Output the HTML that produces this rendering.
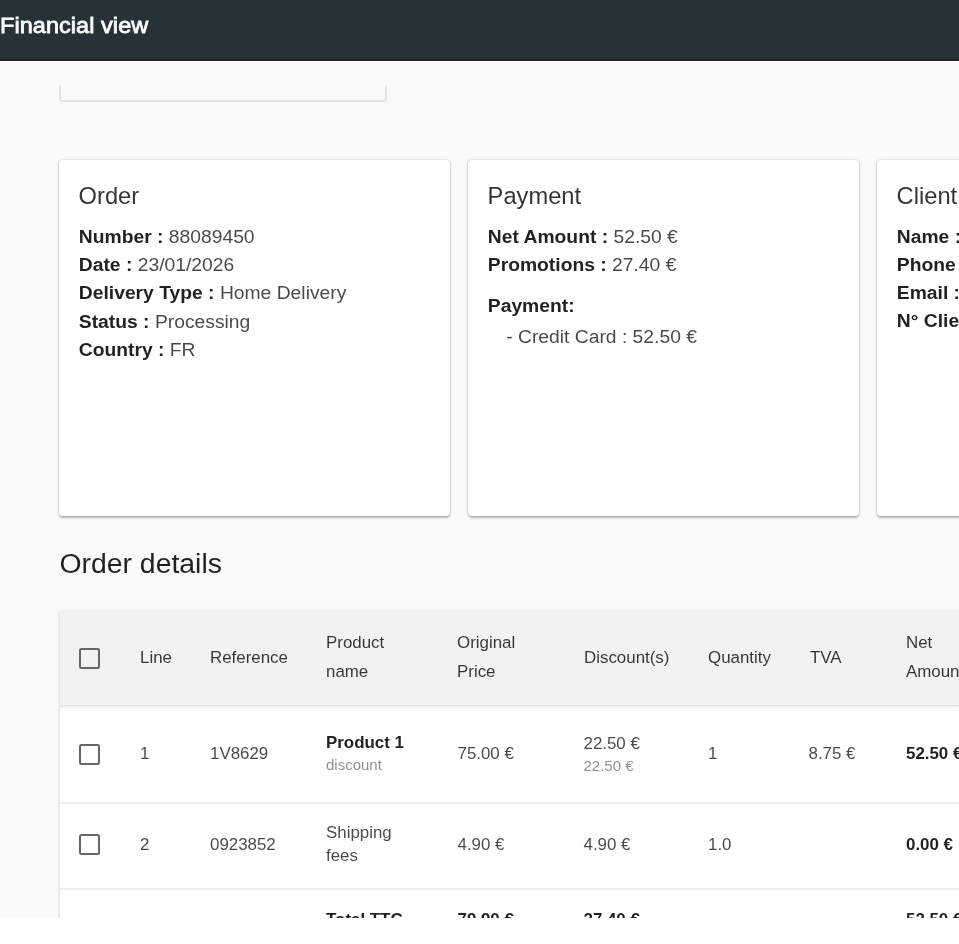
<!DOCTYPE html>
<html><head><meta charset="utf-8">
<style>
*{box-sizing:border-box;margin:0;padding:0}
html,body{width:959px;height:944px;overflow:hidden;background:#fff;font-family:"Liberation Sans",sans-serif}
#page{position:absolute;left:0;top:0;width:959px;height:918px;background:#fafafa;overflow:hidden;filter:blur(0.4px)}
#hdr{position:absolute;left:0;top:0;width:959px;height:60.5px;background:#263238;filter:blur(0.3px)}
#hdr .ttl{position:absolute;left:0;top:10.5px;transform:scaleY(.93);transform-origin:0 22.1px;font-size:23.5px;line-height:28px;color:#fafafa;white-space:nowrap;-webkit-text-stroke:0.85px #fafafa;letter-spacing:0.05px}
#hdr .ln{position:absolute;left:0;top:58.5px;width:959px;height:2px;background:#20272c}
#hdr .wl{position:absolute;left:0;top:60.5px;width:959px;height:1.5px;background:#fff}
.box{position:absolute;left:59px;top:84.7px;width:328px;height:17.3px;border:2px solid #e3e3e3;border-top:none;border-radius:0 0 3.5px 3.5px}
.card{position:absolute;top:159.5px;width:390.8px;height:356.2px;background:#fff;border-radius:4px;
 box-shadow:-1px 0 1.5px rgba(0,0,0,.1),1px 0 1.5px rgba(0,0,0,.1),0 -1px 3px rgba(0,0,0,.04),0 2.4px 2px -1px rgba(0,0,0,.14),0 1.2px 1.5px 0 rgba(0,0,0,.08),0 1.2px 3.5px 0 rgba(0,0,0,.08);padding:20px}
.card h2{font-weight:400;font-size:23.7px;line-height:28px;color:rgba(0,0,0,.87);margin-top:24px;white-space:nowrap}
.t{position:absolute;white-space:nowrap;font-size:16.9px;line-height:20px;color:rgba(0,0,0,.87)}
.t b{color:rgba(0,0,0,.87)}
.v{color:rgba(0,0,0,.72)}
.h2{font-size:23.7px;line-height:28px;color:rgba(0,0,0,.8)}
.b19{font-size:19.3px;line-height:28.3px}
.blk>div,.b19{transform:scaleY(.94);transform-origin:0 20.8px}
.h1{font-size:28.4px;line-height:34px}
.blk{position:absolute;white-space:nowrap;font-size:19.3px;line-height:28.3px;color:rgba(0,0,0,.87)}
.tbl{position:absolute;left:59.8px;top:611px;width:920px;height:400px;background:#fff;border-radius:4px;
 box-shadow:-1.5px 0 2px rgba(0,0,0,.05),0 -1px 2px rgba(0,0,0,.03),0 1px 3px 0 rgba(0,0,0,.06);overflow:hidden}
.thead{position:absolute;left:0;top:0;width:100%;height:96.5px;background:#f2f2f2}
.dsep{position:absolute;left:0;top:93.6px;width:100%;height:1.6px;background:repeating-linear-gradient(90deg,#d8d8d8 0 1px,#ececec 1px 2px)}
.sep{position:absolute;left:0;width:100%;height:2px;background:#eeeeee}
.cb{position:absolute;width:21.5px;height:21.2px;border:2px solid #666;border-radius:2.5px}
.th{color:rgba(0,0,0,.78)}
.td{color:rgba(0,0,0,.72)}
.sm{font-size:15px;color:rgba(0,0,0,.45)}
</style></head><body>
<div id="page">
  <div class="box"></div>

  <div class="card" style="left:59.4px"></div>
  <div class="card" style="left:468.4px"></div>
  <div class="card" style="left:877.4px"></div>

  <div class="t h2" style="left:78.6px;top:181.7px">Order</div>
  <div class="blk" style="left:78.8px;top:222.9px">
    <div><b>Number :</b> <span class="v">88089450</span></div>
    <div><b>Date :</b> <span class="v">23/01/2026</span></div>
    <div><b>Delivery Type :</b> <span class="v">Home Delivery</span></div>
    <div><b>Status :</b> <span class="v">Processing</span></div>
    <div><b>Country :</b> <span class="v">FR</span></div>
  </div>

  <div class="t h2" style="left:487.6px;top:181.7px">Payment</div>
  <div class="blk" style="left:487.8px;top:222.9px">
    <div><b>Net Amount :</b> <span class="v">52.50 €</span></div>
    <div><b>Promotions :</b> <span class="v">27.40 €</span></div>
  </div>
  <div class="t b19" style="left:487.8px;top:291.6px"><b>Payment:</b></div>
  <div class="t b19 v" style="left:506.2px;top:322.9px">- Credit Card : 52.50 €</div>

  <div class="t h2" style="left:896.6px;top:181.7px">Client</div>
  <div class="blk" style="left:896.8px;top:222.5px">
    <div><b>Name :</b> <span class="v">Jean Dupont</span></div>
    <div><b>Phone :</b> <span class="v">0600000000</span></div>
    <div><b>Email :</b> <span class="v">jean@mail.com</span></div>
    <div><b>N° Client :</b> <span class="v">12345</span></div>
  </div>

  <div class="t h1" style="left:59.4px;top:545.8px">Order details</div>

  <div class="tbl">
    <div class="thead"></div>
    <div class="dsep"></div>
    <div class="sep" style="top:190.5px"></div>
    <div class="sep" style="top:276.6px"></div>
  </div>
  <div class="cb" style="left:78.8px;top:647.7px"></div>
  <div class="cb" style="left:78.8px;top:744px"></div>
  <div class="cb" style="left:78.8px;top:834.2px"></div>

  <div class="t th" style="left:140px;top:648.3px">Line</div>
  <div class="t th" style="left:210px;top:648.3px">Reference</div>
  <div class="t th" style="left:326px;top:633.4px">Product</div>
  <div class="t th" style="left:326px;top:661.8px">name</div>
  <div class="t th" style="left:457px;top:633.4px">Original</div>
  <div class="t th" style="left:457px;top:661.8px">Price</div>
  <div class="t th" style="left:584px;top:648.3px">Discount(s)</div>
  <div class="t th" style="left:708px;top:648.3px">Quantity</div>
  <div class="t th" style="left:810px;top:648.3px">TVA</div>
  <div class="t th" style="left:906px;top:633.4px">Net</div>
  <div class="t th" style="left:906px;top:661.8px">Amount</div>

  <div class="t td" style="left:140px;top:744.3px">1</div>
  <div class="t td" style="left:210px;top:744.3px">1V8629</div>
  <div class="t" style="left:326px;top:733.3px"><b>Product 1</b></div>
  <div class="t sm" style="left:326px;top:755px">discount</div>
  <div class="t td" style="left:457.5px;top:744.3px">75.00 €</div>
  <div class="t td" style="left:583.5px;top:733.5px">22.50 €</div>
  <div class="t sm" style="left:583.5px;top:756px">22.50 €</div>
  <div class="t td" style="left:708px;top:744.3px">1</div>
  <div class="t td" style="left:808.5px;top:744.3px">8.75 €</div>
  <div class="t" style="left:906px;top:744.3px"><b>52.50 €</b></div>

  <div class="t td" style="left:140px;top:835px">2</div>
  <div class="t td" style="left:210px;top:835px">0923852</div>
  <div class="t td" style="left:326px;top:822.6px">Shipping</div>
  <div class="t td" style="left:326px;top:846px">fees</div>
  <div class="t td" style="left:457.5px;top:835px">4.90 €</div>
  <div class="t td" style="left:583.5px;top:835px">4.90 €</div>
  <div class="t td" style="left:708px;top:835px">1.0</div>
  <div class="t" style="left:906px;top:835px"><b>0.00 €</b></div>

  <div class="t" style="left:326px;top:909.5px"><b>Total TTC</b></div>
  <div class="t" style="left:457.5px;top:909.5px"><b>79.90 €</b></div>
  <div class="t" style="left:583.5px;top:909.5px"><b>27.40 €</b></div>
  <div class="t" style="left:906px;top:909.5px"><b>52.50 €</b></div>

</div>
<div id="hdr"><div class="ttl">Financial view</div><div class="ln"></div><div class="wl"></div></div>
</body></html>
